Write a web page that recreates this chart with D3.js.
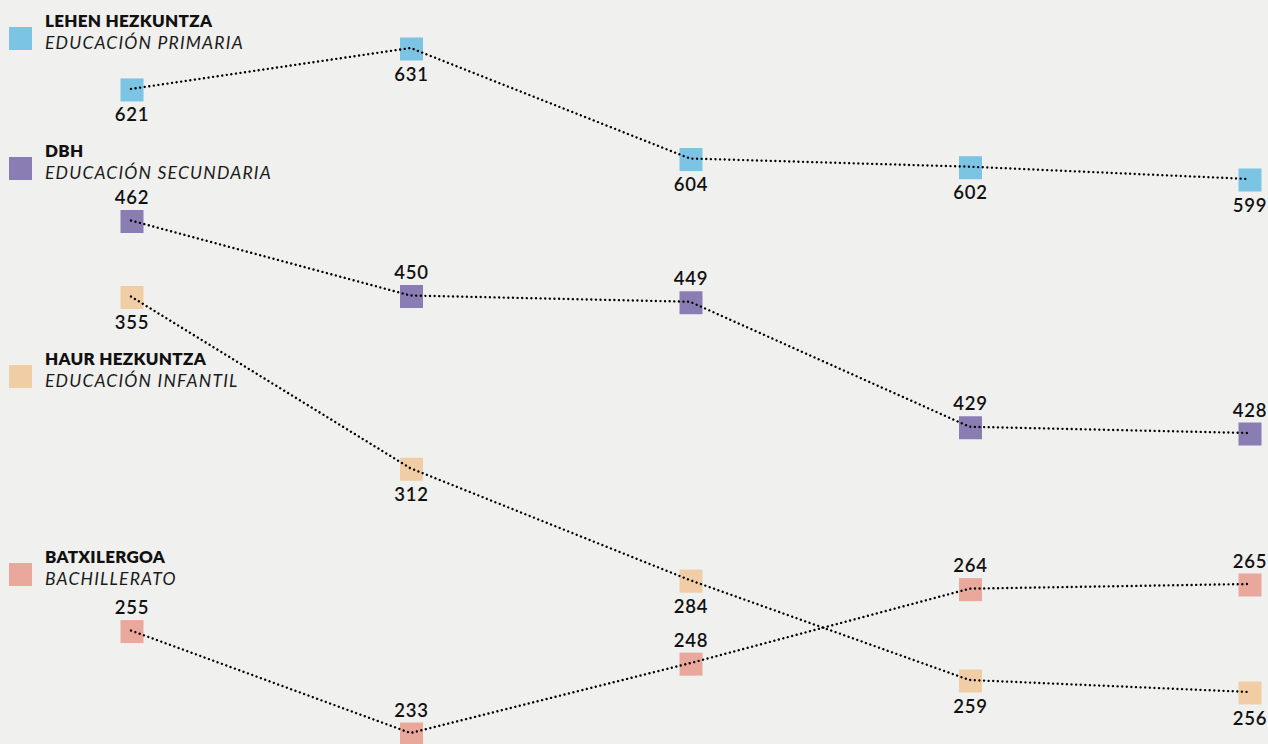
<!DOCTYPE html>
<html>
<head>
<meta charset="utf-8">
<script src="https://cdn.jsdelivr.net/npm/d3@7"></script>
<style>
  html, body { margin: 0; padding: 0; background: #f0f0ee; }
  svg { display: block; }
</style>
</head>
<body>
<svg id="chart" width="1268" height="744"></svg>
<script>
// ---- data ----
const columns = ["1", "2", "3", "4", "5"];
const seriesNamesEu = ["LEHEN HEZKUNTZA", "DBH", "HAUR HEZKUNTZA", "BATXILERGOA"];
const seriesNamesEs = ["EDUCACIÓN PRIMARIA", "EDUCACIÓN SECUNDARIA", "EDUCACIÓN INFANTIL", "BACHILLERATO"];
const primaria   = [621, 631, 604, 602, 599];
const secundaria = [462, 450, 449, 429, 428];
const infantil   = [355, 312, 284, 259, 256];
const bachiller  = [255, 233, 248, 264, 265];

// ---- layout / style ----
const W = 1268, H = 744;
const colors = ["#7cc4e4", "#8a7db4", "#f0cda4", "#e9a89b"];
// vertical pixel band for each series (maps its min..max values)
const bands = [[180, 49], [434, 221.5], [693, 297.5], [734, 585]];
const labelPos = ["below", "above", "below", "above"];
const legendY = [27, 157, 365, 563];
const allSeries = [primaria, secundaria, infantil, bachiller];

const svg = d3.select("#chart");
svg.append("rect").attr("width", W).attr("height", H).attr("fill", "#f0f0ee");

const x = d3.scalePoint().domain(columns).range([132, 1250]);
const font = "Lato, 'Open Sans', sans-serif";
const S = 23;

// legend
seriesNamesEu.forEach((name, i) => {
  const g = svg.append("g").attr("transform", `translate(0,${legendY[i]})`);
  g.append("rect").attr("x", 9).attr("y", 0).attr("width", S).attr("height", S).attr("fill", colors[i]);
  g.append("text").attr("x", 45).attr("y", 0)
    .attr("font-family", font).attr("font-weight", 800).attr("font-size", 17)
    .attr("letter-spacing", 0.3)
    .attr("fill", "#111").text(name);
  g.append("text").attr("x", 45).attr("y", 22)
    .attr("font-family", font).attr("font-style", "italic").attr("font-weight", 400)
    .attr("font-size", 17.5).attr("letter-spacing", 1.2)
    .attr("fill", "#1a1a1a").text(seriesNamesEs[i]);
});

allSeries.forEach((vals, i) => {
  const y = d3.scaleLinear().domain(d3.extent(vals)).range(bands[i]);
  const pts = vals.map((v, j) => ({ c: columns[j], v }));
  const g = svg.append("g");
  // markers
  g.selectAll("rect").data(pts).join("rect")
    .attr("x", d => x(d.c) - S / 2)
    .attr("y", d => y(d.v) - S / 2)
    .attr("width", S).attr("height", S)
    .attr("fill", colors[i]);
  // value labels
  g.selectAll("text").data(pts).join("text")
    .attr("x", d => x(d.c))
    .attr("y", d => labelPos[i] === "above" ? y(d.v) - S / 2 - 6 : y(d.v) + S / 2 + 20)
    .attr("text-anchor", "middle")
    .attr("font-family", font).attr("font-weight", 600).attr("font-size", 18.5)
    .attr("letter-spacing", 0.8)
    .attr("fill", "#111")
    .text(d => d.v);
  // dotted line
  const line = d3.line().x(d => x(d.c) - 1).y(d => y(d.v) - 1);
  g.append("path").datum(pts)
    .attr("d", line)
    .attr("fill", "none")
    .attr("stroke", "#000")
    .attr("stroke-width", 2.4)
    .attr("stroke-linecap", "round")
    .attr("stroke-dasharray", "0.01,4.6");
});
</script>
</body>
</html>
